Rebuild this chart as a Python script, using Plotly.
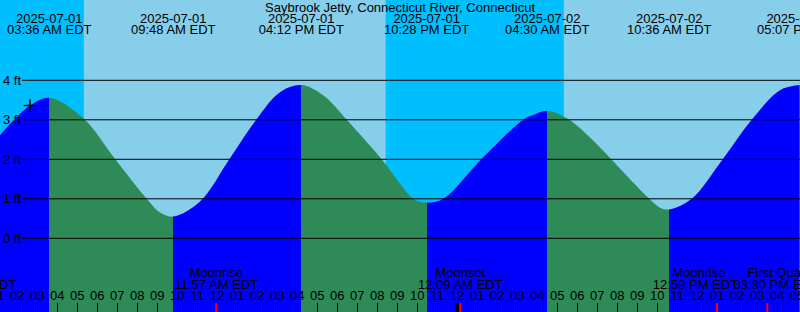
import plotly.graph_objects as go

# ---------------- data (hours since 2025-07-01 00:00 EDT) ----------------
TITLE = "Saybrook Jetty, Connecticut River, Connecticut"

# tide extremes
extreme_t = [3.6, 9.8, 16.2, 22.4667, 28.5, 34.6, 41.1167]
extreme_ft = [3.56, 0.55, 3.88, 0.90, 3.23, 0.73, 3.88]
extreme_date = ["2025-07-01", "2025-07-01", "2025-07-01", "2025-07-01",
                "2025-07-02", "2025-07-02", "2025-07-02"]
extreme_time = ["03:36 AM EDT", "09:48 AM EDT", "04:12 PM EDT", "10:28 PM EDT",
                "04:30 AM EDT", "10:36 AM EDT", "05:07 PM EDT"]

# water level readings between the extremes
reading_t = [1.135, 2.635, 5.3, 6.9, 8.47, 9.135, 11.135, 12.6, 13.94, 15.135,
             17.3, 18.47, 20.22, 21.135, 21.8, 23.3, 25.2, 27.3, 27.8, 29.6,
             31.135, 31.7, 33.6, 34.135, 35.72, 37.27, 38.72, 40.135]
reading_ft = [2.61, 3.36, 3.04, 2.0, 1.0, 0.65, 0.93, 2.0, 3.0, 3.7,
              3.62, 3.0, 2.0, 1.39, 1.0, 1.0, 2.0, 3.0, 3.12, 3.0,
              2.3, 2.0, 1.0, 0.775, 1.0, 2.0, 3.0, 3.75]

# current-time marker
now_t = [2.635]
now_ft = [3.36]

# sky: sunrise / sunset boundaries
sky_edges = [-2.0, 5.33, 20.42, 29.33, 44.0]
sky_is_day = [False, True, False, True]

# moon events
moon_t = [-0.27, 11.95, 24.15, 36.983, 39.5]
moon_name_t = [-0.16, 11.95, 24.15, 36.085, 40.34]
moon_time_t = [-0.16, 11.95, 24.15, 35.91, 39.94]
moon_name = ["Moonset", "Moonrise", "Moonset", "Moonrise", "First Quarter"]
moon_time = ["11:44 PM EDT", "11:57 AM EDT", "12:09 AM EDT", "12:59 PM EDT", "03:30 PM EDT"]

midnight_t = [24.0]

hour_ticks = list(range(1, 42))
hour_labels = ["01", "02", "03", "04", "05", "06", "07", "08", "09", "10", "11", "12",
               "01", "02", "03", "04", "05", "06", "07", "08", "09", "10", "11", "12",
               "01", "02", "03", "04", "05", "06", "07", "08", "09", "10", "11", "12",
               "01", "02", "03", "04", "05"]

ft_levels = [0, 1, 2, 3, 4]
ft_labels = ["0 ft", "1 ft", "2 ft", "3 ft", "4 ft"]

# ---------------- styling ----------------
FONT = "Liberation Sans, Arial, sans-serif"
FS = 13
BLUE = "#0000FF"
GREEN = "#2E8B57"
NIGHT = "#00BFFF"
DAY = "#87CEEB"
X_RANGE = [1.135, 41.135]
Y_RANGE = [-1.866, 6.033]

# merged curve
pts = sorted(zip(reading_t + extreme_t, reading_ft + extreme_ft))
curve_t = [p[0] for p in pts]
curve_ft = [p[1] for p in pts]

# horizontal colour bands: rising = blue, falling = green
x0, x1 = curve_t[0], curve_t[-1]
span = x1 - x0
bounds = [x0] + extreme_t
cs = []
for i in range(len(bounds) - 1):
    a = max(0.0, min(1.0, (bounds[i] - x0) / span))
    b = max(0.0, min(1.0, (bounds[i + 1] - x0) / span))
    end_ft = extreme_ft[extreme_t.index(bounds[i + 1])]
    others = extreme_ft
    rising = end_ft > sum(others) / len(others)
    col = BLUE if rising else GREEN
    cs.append([a, col])
    cs.append([b, col])

fig = go.Figure()

# baseline for fill
fig.add_trace(go.Scatter(x=[x0, x1], y=[-3, -3], mode="lines",
                         line=dict(width=0), hoverinfo="skip", showlegend=False))
# tide curve
fig.add_trace(go.Scatter(x=curve_t, y=curve_ft, mode="lines",
                         line=dict(width=0, shape="spline", smoothing=1.0, color=BLUE),
                         fill="tonexty",
                         fillgradient=dict(type="horizontal", colorscale=cs, start=x0, stop=x1),
                         hoverinfo="skip", showlegend=False))

# now marker
fig.add_trace(go.Scatter(x=now_t, y=now_ft, mode="markers",
                         marker=dict(symbol="cross-thin", size=9,
                                     line=dict(width=1.5, color="black")),
                         hoverinfo="skip", showlegend=False))

txt_font = dict(family=FONT, size=FS, color="black")

def text_trace(xs, ypix, texts):
    return go.Scatter(x=xs, y=[ypix] * len(xs), text=texts, mode="text",
                      textposition="middle center", textfont=txt_font,
                      yaxis="y2", cliponaxis=True, hoverinfo="skip", showlegend=False)

fig.add_trace(text_trace(extreme_t, 19.5, extreme_date))
fig.add_trace(text_trace(extreme_t, 31.2, extreme_time))
fig.add_trace(text_trace(moon_name_t, 273.3, moon_name))
fig.add_trace(text_trace(moon_time_t, 285.4, moon_time))
fig.add_trace(text_trace(hour_ticks, 297.2, hour_labels))

shapes = []
for i, day in enumerate(sky_is_day):
    shapes.append(dict(type="rect", xref="x", yref="paper",
                       x0=sky_edges[i], x1=sky_edges[i + 1], y0=0, y1=1,
                       fillcolor=DAY if day else NIGHT, line=dict(width=0), layer="below"))
for lv in ft_levels:
    shapes.append(dict(type="line", xref="paper", yref="y", x0=0.0275, x1=1,
                       y0=lv, y1=lv, line=dict(color="black", width=1), layer="above"))
for t in midnight_t:
    shapes.append(dict(type="line", xref="x", yref="paper", x0=t, x1=t,
                       y0=0, y1=9 / 312, line=dict(color="black", width=3), layer="above"))
for t in moon_t:
    shapes.append(dict(type="line", xref="x", yref="paper", x0=t, x1=t,
                       y0=0, y1=9 / 312, line=dict(color="red", width=2), layer="above"))

annotations = [dict(text=TITLE, xref="paper", yref="paper", x=0.5, y=1 - 7.3 / 312,
                    xanchor="center", yanchor="middle", showarrow=False,
                    font=dict(family=FONT, size=13, color="black"))]
for lv, lab in zip(ft_levels, ft_labels):
    annotations.append(dict(text=lab, xref="paper", yref="y", x=0.0, y=lv,
                            xanchor="left", yanchor="middle", showarrow=False,
                            xshift=1, font=txt_font))

fig.update_layout(
    width=800, height=312, margin=dict(l=0, r=0, t=0, b=0),
    paper_bgcolor=DAY, plot_bgcolor=DAY,
    xaxis=dict(range=X_RANGE, tickvals=hour_ticks, ticks="inside", ticklen=9,
               tickwidth=1, tickcolor="black", showticklabels=False,
               showgrid=False, zeroline=False, showline=False, fixedrange=True),
    yaxis=dict(range=Y_RANGE, showgrid=False, zeroline=False, showticklabels=False,
               ticks="", showline=False, fixedrange=True),
    yaxis2=dict(range=[312, 0], overlaying="y", visible=False, fixedrange=True),
    shapes=shapes, annotations=annotations, showlegend=False,
)

fig.write_html("out.html")
